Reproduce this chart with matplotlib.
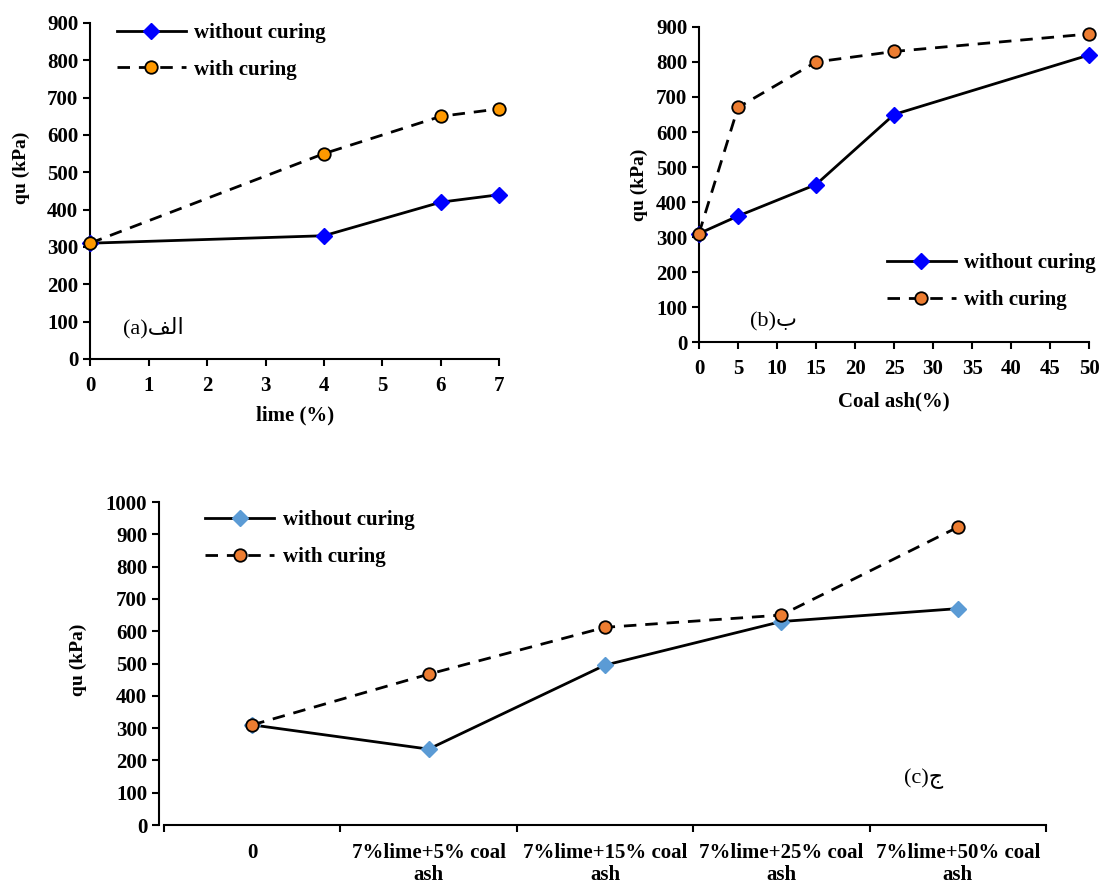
import matplotlib.pyplot as plt

plt.rcParams['font.family'] = ['Liberation Serif', 'DejaVu Sans']
plt.rcParams['font.weight'] = 'bold'

# (a) lime content
lime_pct = [0, 4, 6, 7]
lime_no_cure = [310, 330, 420, 440]
lime_cure = [310, 550, 650, 670]

# (b) coal ash content
ash_pct = [0, 5, 15, 25, 50]
ash_no_cure = [310, 360, 450, 650, 820]
ash_cure = [310, 670, 800, 830, 880]

# (c) lime + coal ash mixes
mix_labels = ['0', '7%lime+5% coal\nash', '7%lime+15% coal\nash',
              '7%lime+25% coal\nash', '7%lime+50% coal\nash']
mix_no_cure = [310, 235, 495, 630, 670]
mix_cure = [310, 467, 612, 650, 922]

FS = 15
DASH = (4.5, 3.2)

fig = plt.figure(figsize=(10.99, 8.84), dpi=100)
ax_a = fig.add_axes([0.0819, 0.594, 0.3726, 0.380])
ax_b = fig.add_axes([0.636, 0.613, 0.355, 0.3565])
ax_c = fig.add_axes([0.1447, 0.0667, 0.807, 0.3654])


def style(ax):
    for s in ['top', 'right']:
        ax.spines[s].set_visible(False)
    for s in ['left', 'bottom']:
        ax.spines[s].set_linewidth(1.5)
    ax.tick_params(direction='out', length=5, width=1.5, labelsize=FS)
    for t in ax.get_xticklabels() + ax.get_yticklabels():
        t.set_fontweight('bold')


def draw(ax, x, y1, y2, blue, orange):
    ax.plot(x, y1, '-', color='black', lw=2, marker='D', ms=8.5,
            mfc=blue, mec=blue, label='without curing', clip_on=False, zorder=3)
    ax.plot(x, y2, '--', color='black', lw=2, marker='o', ms=9,
            mfc=orange, mec='black', mew=1.3, dashes=DASH,
            label='with curing', clip_on=False, zorder=4)


def legend(ax, loc, anchor):
    ax.legend(loc=loc, bbox_to_anchor=anchor, frameon=False,
              prop={'size': FS, 'weight': 'bold'}, handlelength=3.3,
              handletextpad=0.4, labelspacing=0.8, borderaxespad=0)


# panel a
draw(ax_a, lime_pct, lime_no_cure, lime_cure, '#0000FF', '#FF9900')
ax_a.set_xlim(0, 7)
ax_a.set_ylim(0, 900)
ax_a.set_xticks(range(0, 8))
ax_a.set_yticks(range(0, 901, 100))
ax_a.tick_params(axis='x', pad=7)
ax_a.set_xlabel('lime (%)', fontsize=FS, fontweight='bold', labelpad=7)
ax_a.set_ylabel('qu (kPa)', fontsize=14, fontweight='bold')
ax_a.yaxis.set_label_coords(-0.146, 0.57)
style(ax_a)
legend(ax_a, 'upper left', (0.045, 1.025))
ax_a.text(0.08, 0.075, '(a)\uFED2\uFEDF\uFE8D', transform=ax_a.transAxes,
          fontsize=16, fontweight='normal')

# panel b
draw(ax_b, ash_pct, ash_no_cure, ash_cure, '#0000FF', '#ED7D31')
ax_b.set_xlim(0, 50)
ax_b.set_ylim(0, 900)
ax_b.set_xticks(range(0, 51, 5))
ax_b.set_yticks(range(0, 901, 100))
ax_b.tick_params(axis='x', pad=7)
ax_b.set_xlabel('Coal ash(%)', fontsize=FS, fontweight='bold', labelpad=9)
ax_b.set_ylabel('qu (kPa)', fontsize=14, fontweight='bold')
ax_b.yaxis.set_label_coords(-0.13, 0.5)
style(ax_b)
legend(ax_b, 'lower left', (0.46, 0.075))
ax_b.text(0.13, 0.05, '(b)\uFE8F', transform=ax_b.transAxes,
          fontsize=16, fontweight='normal')

# panel c
pos = list(range(len(mix_labels)))
draw(ax_c, pos, mix_no_cure, mix_cure, '#5B9BD5', '#ED7D31')
ax_c.set_xlim(-0.5 - 5 / 176.4, 4.5)
ax_c.set_ylim(0, 1000)
ax_c.spines['bottom'].set_bounds(-0.5, 4.5)
ax_c.set_yticks(range(0, 1001, 100))
ax_c.set_xticks([p - 0.5 for p in pos] + [4.5])
ax_c.set_xticklabels([])
ax_c.set_xticks(pos, minor=True)
ax_c.set_xticklabels(mix_labels, minor=True, fontsize=FS, fontweight='bold',
                     linespacing=1.1)
ax_c.tick_params(axis='x', which='minor', length=0, pad=13)
ax_c.set_ylabel('qu (kPa)', fontsize=14, fontweight='bold')
ax_c.yaxis.set_label_coords(-0.081, 0.51)
style(ax_c)
legend(ax_c, 'upper left', (0.043, 1.0))
ax_c.text(0.84, 0.13, '(c)\uFE9D', transform=ax_c.transAxes,
          fontsize=16, fontweight='normal')

fig.savefig('out.png', dpi=100)
